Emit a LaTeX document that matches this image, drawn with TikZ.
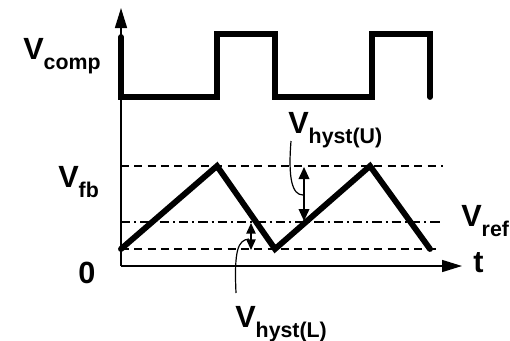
\documentclass[tikz,border=0pt]{standalone}
\usepackage{fontspec}
\setmainfont{Liberation Sans}
\usetikzlibrary{arrows.meta}

\newcommand{\vlabel}[2]{#1\raisebox{-7.5pt}{\fontsize{16}{16}\selectfont #2}}

\tikzset{
    axis/.style={line width=1.1pt, -{Triangle[length=15pt,width=9pt]}},
    wave/.style={line width=4.4pt, line cap=round, line join=miter},
    guide/.style={line width=0.8pt, dash pattern=on 6pt off 4pt},
    refline/.style={line width=0.8pt, dash pattern=on 7pt off 3pt on 1.5pt off 3pt},
    hyst/.style={line width=1.1pt, {Triangle[length=9pt,width=8pt]}-{Triangle[length=9pt,width=8pt]}},
    hystsmall/.style={line width=1.1pt, {Triangle[length=8pt,width=7pt]}-{Triangle[length=8pt,width=7pt]}},
    leader/.style={line width=0.9pt},
    lbl/.style={anchor=base west, inner sep=0pt, font=\bfseries\fontsize{23}{26}\selectfont},
}

\begin{document}
\begin{tikzpicture}[x=0.75pt,y=-0.75pt]
    \useasboundingbox (0,0) rectangle (510,340);

    % axes
    \coordinate (O) at (121,266);
    \coordinate (ytop) at (121,8);
    \coordinate (xend) at (462,266);
    \draw[axis] (O) -- (ytop);
    \draw[axis] (O) -- (xend);

    % threshold levels
    \coordinate (upL) at (121,166);   \coordinate (upR) at (443,166);
    \coordinate (refL) at (121,222);  \coordinate (refR) at (443,222);
    \coordinate (loL) at (121,249);   \coordinate (loR) at (437,249);
    \draw[guide] (upL) -- (upR);
    \draw[refline] (refL) -- (refR);
    \draw[guide] (loL) -- (loR);

    % comparator output
    \draw[wave] (121,37) -- (121,97) -- (217,97) -- (217,34) -- (275,34) -- (275,97)
        -- (372,97) -- (372,34) -- (430,34) -- (430,97);

    % feedback ramp
    \draw[wave] (121,249) -- (217,166) -- (275,249) -- (370,166) -- (430,249);

    % labels
    \node[lbl] (vcomp) at (23,59) {\vlabel{V}{comp}};
    \node[lbl] (vfb) at (58,187) {\vlabel{V}{fb}};
    \node[lbl] (vref) at (461,226) {\vlabel{V}{ref}};
    \node[lbl] (zero) at (78,283) {0};
    \node[lbl] (tlab) at (473,272) {t};
    \node[lbl] (hystu) at (288,133) {\vlabel{V}{hyst(U)}};
    \node[lbl] (hystl) at (235,327) {\vlabel{V}{hyst(L)}};

    % hysteresis arrows
    \coordinate (uTop) at (304,167);  \coordinate (uBot) at (304,221);
    \coordinate (lTop) at (251,223);  \coordinate (lBot) at (251,250);
    \draw[hyst] (uTop) -- (uBot);
    \draw[hystsmall] (lTop) -- (lBot);

    \coordinate (uFoot) at (291,141);
    \coordinate (lFoot) at (236,293);
    \draw[leader] (uFoot) .. controls (288,178) and (292,195) .. (303,195);
    \draw[leader] (lFoot) .. controls (234,250) and (238,240) .. (249,239);
\end{tikzpicture}
\end{document}
